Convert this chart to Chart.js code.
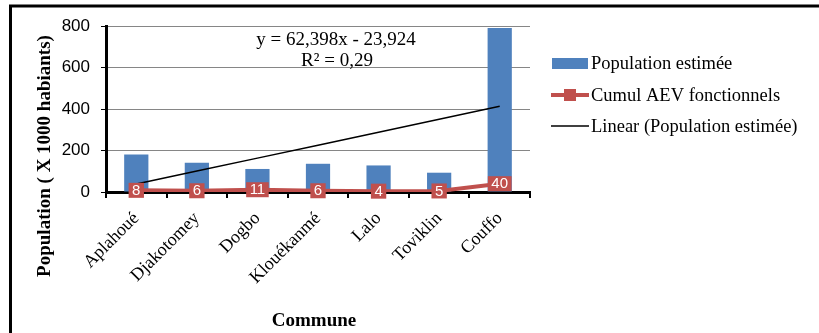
<!DOCTYPE html>
<html>
<head>
<meta charset="utf-8">
<script src="https://cdn.jsdelivr.net/npm/chart.js@4.4.1/dist/chart.umd.min.js"></script>
<style>
  html, body { margin: 0; padding: 0; background: #fff; }
  #wrap { width: 819px; height: 333px; }
</style>
</head>
<body>
<div id="wrap"><canvas id="chart"></canvas></div>
<script>
const communes = ['Aplahoué', 'Djakotomey', 'Dogbo', 'Klouékanmé', 'Lalo', 'Toviklin', 'Couffo']
const population = [181, 141, 111, 136, 128, 93, 790]
const cumulAev = [8, 6, 11, 6, 4, 5, 40]
const yTicks = [0, 200, 400, 600, 800]

// Excel linear trendline of the population series (x = 1..n)
const trendSlope = 62.398
const trendIntercept = -23.924
const trendLabel = ['y = 62,398x - 23,924', 'R² = 0,29']

const BLUE = '#4F81BD'
const RED = '#C0504D'
const SERIF = '"Liberation Serif", "Times New Roman", serif'
const SANS = '"Liberation Sans", Arial, sans-serif'

const trend = communes.map((c, i) => trendSlope * (i + 1) + trendIntercept)

const framePlugin = {
  id: 'frame',
  beforeDraw: (chart) => {
    const { ctx } = chart
    ctx.save()
    ctx.fillStyle = '#FFFFFF'
    ctx.fillRect(0, 0, chart.width, chart.height)
    ctx.restore()
  },
  afterDraw: (chart) => {
    const { ctx, chartArea } = chart
    ctx.save()

    // outer frame (top and left edges only)
    ctx.strokeStyle = '#000'
    ctx.lineWidth = 3
    ctx.beginPath()
    ctx.moveTo(10.5, chart.height)
    ctx.lineTo(10.5, 6)
    ctx.lineTo(chart.width, 6)
    ctx.stroke()

    ctx.fillStyle = '#000'

    // axis titles
    ctx.font = 'bold 19px ' + SERIF
    ctx.textAlign = 'center'
    ctx.textBaseline = 'middle'
    ctx.save()
    ctx.translate(45, 156)
    ctx.rotate(-Math.PI / 2)
    ctx.fillText('Population ( X 1000 habiants)', 0, 0)
    ctx.restore()
    ctx.textBaseline = 'alphabetic'
    ctx.fillText('Commune', 314, 326)

    // trendline equation
    ctx.font = '19px ' + SERIF
    ctx.fillText(trendLabel[0], chartArea.left + 230, 45)
    ctx.fillText(trendLabel[1], chartArea.left + 231, 66)

    // legend
    const lx = 551
    const rows = [63, 95, 126]
    chart.data.datasets.forEach((ds, i) => {
      const y = rows[i]
      if (ds.type === 'line' && ds.pointStyle === 'rect') {
        ctx.strokeStyle = ds.borderColor
        ctx.lineWidth = 4
        ctx.beginPath()
        ctx.moveTo(lx, y)
        ctx.lineTo(lx + 38, y)
        ctx.stroke()
        ctx.fillStyle = ds.borderColor
        ctx.fillRect(lx + 13, y - 6, 12, 12)
      } else if (ds.type === 'line') {
        ctx.strokeStyle = ds.borderColor
        ctx.lineWidth = 1.5
        ctx.beginPath()
        ctx.moveTo(lx, y)
        ctx.lineTo(lx + 38, y)
        ctx.stroke()
      } else {
        ctx.fillStyle = ds.backgroundColor
        ctx.fillRect(lx + 1, y - 5, 36, 11)
      }
      ctx.fillStyle = '#000'
      ctx.font = '18.5px ' + SERIF
      ctx.textAlign = 'left'
      ctx.textBaseline = 'middle'
      ctx.fillText(ds.label, lx + 40, y + 1)
    })
    ctx.restore()
  },
}

// white values on red boxes for the AEV series
const valueBoxPlugin = {
  id: 'valueBoxes',
  afterDatasetsDraw: (chart) => {
    const { ctx } = chart
    const meta = chart.getDatasetMeta(1)
    const values = chart.data.datasets[1].data
    ctx.save()
    ctx.font = '15px ' + SANS
    ctx.textAlign = 'center'
    ctx.textBaseline = 'middle'
    meta.data.forEach((pt, i) => {
      const text = String(values[i])
      const w = ctx.measureText(text).width + 7
      ctx.fillStyle = RED
      ctx.fillRect(pt.x - w / 2, pt.y - 7.5, w, 15)
      ctx.fillStyle = '#FFFFFF'
      ctx.fillText(text, pt.x, pt.y + 0.5)
    })
    ctx.restore()
  },
}

new Chart(document.getElementById('chart'), {
  type: 'bar',
  data: {
    labels: communes,
    datasets: [
      {
        type: 'bar',
        label: 'Population estimée',
        data: population,
        backgroundColor: BLUE,
        barPercentage: 0.4,
        categoryPercentage: 1,
        order: 3,
      },
      {
        type: 'line',
        label: 'Cumul AEV fonctionnels',
        data: cumulAev,
        borderColor: RED,
        backgroundColor: RED,
        borderWidth: 4,
        pointStyle: 'rect',
        pointRadius: 6,
        tension: 0,
        order: 1,
      },
      {
        type: 'line',
        label: 'Linear (Population estimée)',
        data: trend,
        borderColor: '#000000',
        borderWidth: 1.5,
        pointRadius: 0,
        tension: 0,
        order: 2,
      },
    ],
  },
  options: {
    responsive: true,
    maintainAspectRatio: false,
    animation: false,
    devicePixelRatio: 1,
    layout: {
      padding: { left: 12, top: 26, right: 289, bottom: 0 },
    },
    plugins: {
      legend: { display: false },
      tooltip: { enabled: false },
    },
    scales: {
      x: {
        offset: true,
        grid: {
          offset: true,
          drawOnChartArea: false,
          color: '#000',
          tickLength: 6,
          lineWidth: 2,
        },
        border: { color: '#000', width: 3 },
        ticks: {
          color: '#000',
          font: { family: SERIF, size: 18 },
          minRotation: 45,
          maxRotation: 45,
          padding: 10,
        },
        afterFit: (scale) => { scale.height = 141 },
      },
      y: {
        min: 0,
        max: 800,
        afterBuildTicks: (scale) => { scale.ticks = yTicks.map((v) => ({ value: v })) },
        grid: {
          color: '#868686',
          tickColor: '#000',
          tickLength: 5,
          lineWidth: 1,
        },
        border: { color: '#000', width: 3 },
        ticks: {
          color: '#000',
          font: { family: SANS, size: 17 },
          padding: 11,
        },
        afterFit: (scale) => { scale.width = 94 },
      },
    },
  },
  plugins: [framePlugin, valueBoxPlugin],
})
</script>
</body>
</html>
